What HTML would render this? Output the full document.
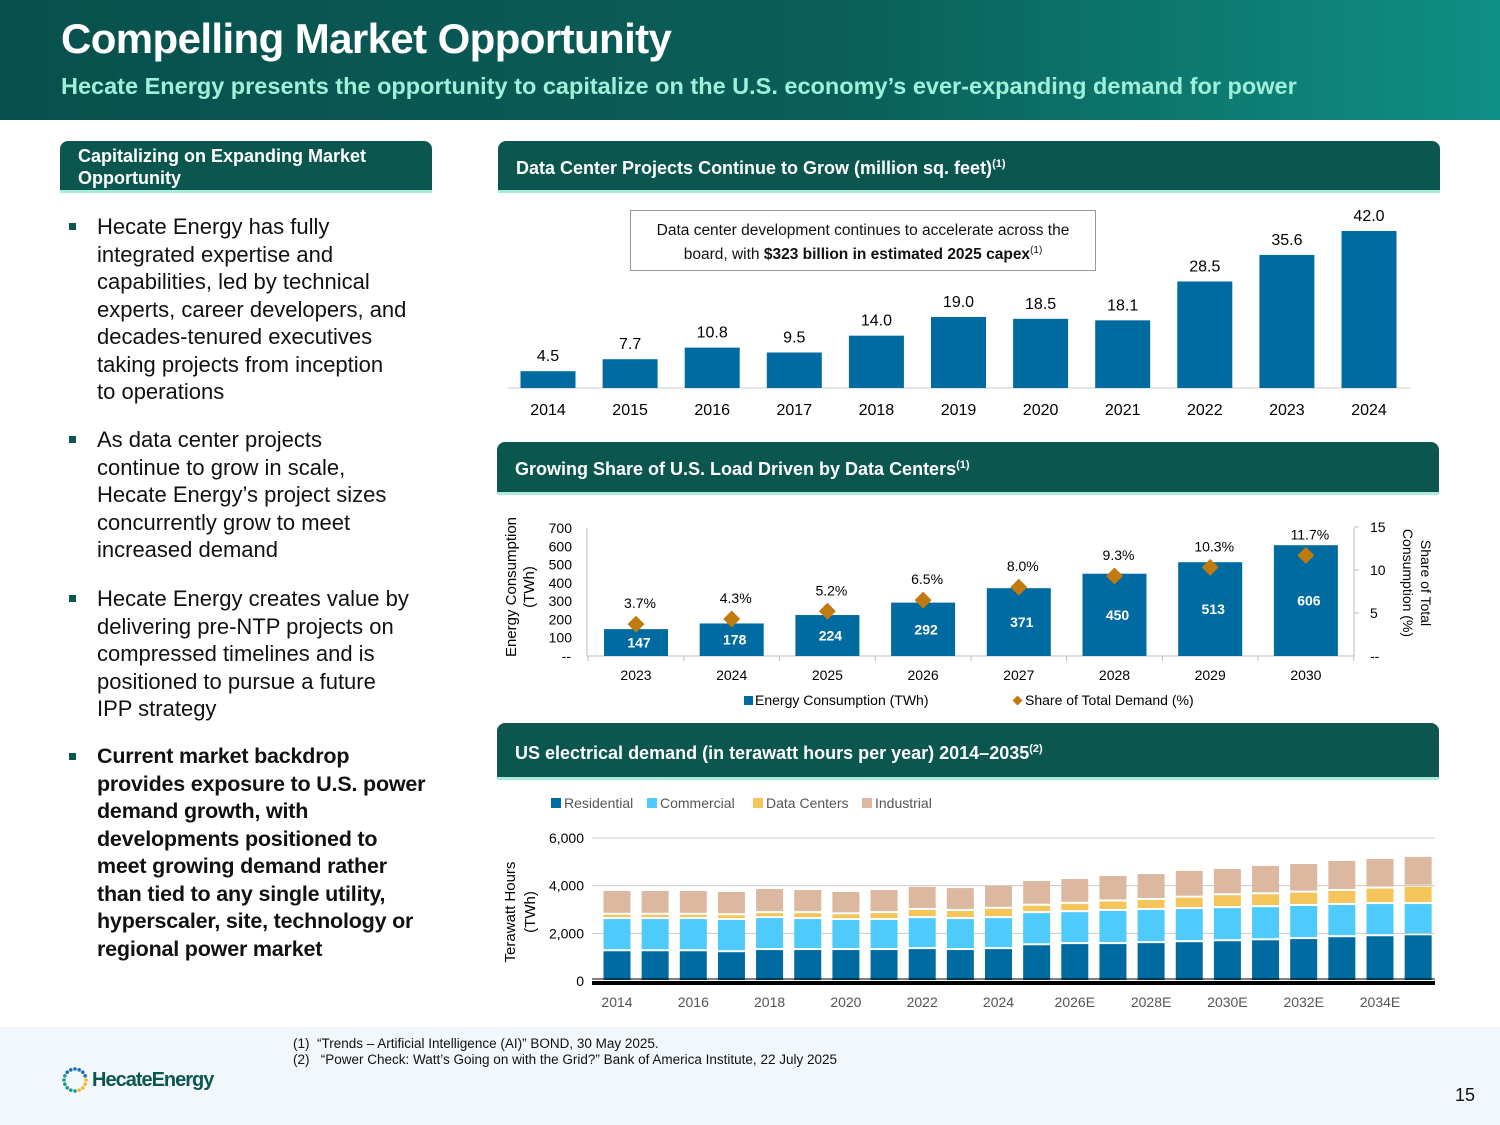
<!DOCTYPE html>
<html><head><meta charset="utf-8"><style>
*{margin:0;padding:0;box-sizing:border-box}
body{width:1500px;height:1125px;position:relative;background:#fff;font-family:"Liberation Sans",Arial,sans-serif;overflow:hidden;color:#111}
.hdr{position:absolute;left:0;top:0;width:1500px;height:120px;background:linear-gradient(90deg,#08504d 0%,#0a5e58 55%,#0f8f84 100%)}
.title{position:absolute;left:61px;top:15px;font-size:42px;font-weight:bold;color:#fff;letter-spacing:-0.6px}
.sub{position:absolute;left:61px;top:73px;font-size:23.5px;font-weight:bold;color:#9ff0d8}
.sec{position:absolute;background:#0b564f;color:#fff;font-weight:bold;border-bottom:3px solid #a8ecdc;border-radius:8px 8px 0 0}
.bul{position:absolute;left:97px;width:308px;font-size:22px;line-height:27.5px;color:#111}
.bul::before{content:"";position:absolute;left:-28px;top:10px;width:7px;height:7px;background:#0b564f}
.foot{position:absolute;left:0;top:1027px;width:1500px;height:98px;background:#f1f7fb}
svg text{font-family:"Liberation Sans",Arial,sans-serif}
</style></head><body>
<div class="hdr"></div>
<div class="title">Compelling Market Opportunity</div>
<div class="sub">Hecate Energy presents the opportunity to capitalize on the U.S. economy’s ever-expanding demand for power</div>

<div class="sec" style="left:60px;top:141px;width:372px;height:52px;font-size:18px;padding:4px 18px;line-height:22px">Capitalizing on Expanding Market Opportunity</div>
<div class="bul" style="top:213px;width:316px">Hecate Energy has fully integrated expertise and capabilities, led by technical experts, career developers, and decades-tenured executives taking projects from inception<br>to operations</div>
<div class="bul" style="top:426px;width:305px">As data center projects continue to grow in scale, Hecate Energy’s project sizes concurrently grow to meet increased demand</div>
<div class="bul" style="top:585px;width:316px">Hecate Energy creates value by delivering pre-NTP projects on compressed timelines and is positioned to pursue a future IPP strategy</div>
<div class="bul" style="top:743px;font-weight:bold;width:330px;font-size:21.5px;letter-spacing:-0.2px">Current market backdrop<br>provides exposure to U.S. power demand growth, with developments positioned to meet growing demand rather than tied to any single utility, hyperscaler, site, technology or regional power market</div>

<div class="sec" style="left:498px;top:141px;width:942px;height:52px;font-size:18px;padding:17px 18px">Data Center Projects Continue to Grow (million sq. feet)<sup style="font-size:11px">(1)</sup></div>
<div class="sec" style="left:497px;top:442px;width:942px;height:53px;font-size:18px;padding:17px 18px">Growing Share of U.S. Load Driven by Data Centers<sup style="font-size:11px">(1)</sup></div>
<div class="sec" style="left:497px;top:723px;width:942px;height:57px;font-size:18px;padding:20px 18px">US electrical demand (in terawatt hours per year) 2014–2035<sup style="font-size:11px">(2)</sup></div>

<div style="position:absolute;left:630px;top:210px;width:466px;height:61px;border:1px solid #999;font-size:15.5px;text-align:center;padding:10px 24px 0;line-height:20px">Data center development continues to accelerate across the board, with <b>$323 billion in estimated 2025 capex</b><sup style="font-size:10px">(1)</sup></div>

<svg id="svg" width="1500" height="1125" style="position:absolute;left:0;top:0"></svg>

<div class="foot"></div>
<div style="position:absolute;left:293px;top:1036px;font-size:13.5px;line-height:16px">(1)&nbsp; “Trends – Artificial Intelligence (AI)” BOND, 30 May 2025.<br>(2)&nbsp;&nbsp; “Power Check: Watt’s Going on with the Grid?” Bank of America Institute, 22 July 2025</div>
<div style="position:absolute;left:60px;top:1066px;height:28px;display:flex;align-items:center">
<svg width="30" height="30" viewBox="0 0 30 30"><g id="dots"></g></svg>
<span style="font-size:20px;color:#0b564f;font-weight:bold;letter-spacing:-1px;margin-left:2px">HecateEnergy</span></div>
<div style="position:absolute;left:1455px;top:1085px;font-size:18px">15</div>

<script>
const NS="http://www.w3.org/2000/svg";
const svg=document.getElementById('svg');
function mk(t,a,txt){const e=document.createElementNS(NS,t);for(const k in a)e.setAttribute(k,a[k]);if(txt!==undefined)e.textContent=txt;svg.appendChild(e);return e;}

const dg=document.getElementById('dots');
for(let i=0;i<16;i++){const a=i/16*Math.PI*2;const c=document.createElementNS(NS,'circle');c.setAttribute('cx',15+11*Math.cos(a));c.setAttribute('cy',15+11*Math.sin(a));c.setAttribute('r',1.8);c.setAttribute('fill',i<4?'#f2b632':(i<10?'#1b9a8a':'#1f6fb3'));dg.appendChild(c);}

// Chart 1
const c1Years=["2014","2015","2016","2017","2018","2019","2020","2021","2022","2023","2024"];
const c1Vals=[4.5,7.7,10.8,9.5,14.0,19.0,18.5,18.1,28.5,35.6,42.0];
const c1Labels=["4.5","7.7","10.8","9.5","14.0","19.0","18.5","18.1","28.5","35.6","42.0"];
(function(){
 const base=388,k=157/42,x0=548,step=82.1,w=55;
 mk('line',{x1:508,x2:1410,y1:base,y2:base,stroke:'#ccc'});
 c1Vals.forEach((v,i)=>{const cx=x0+i*step,h=v*k;
  const r=mk('rect',{x:cx-w/2,y:base-h,width:w,height:h,fill:'#006ba0'});
  
  mk('text',{x:cx,y:base-h-10,'text-anchor':'middle','font-size':16},c1Labels[i]);
  mk('text',{x:cx,y:base+27,'text-anchor':'middle','font-size':16},c1Years[i]);});
})();

// Chart 2
const c2Years=["2023","2024","2025","2026","2027","2028","2029","2030"];
const c2Energy=[147,178,224,292,371,450,513,606];
const c2Share=[3.7,4.3,5.2,6.5,8.0,9.3,10.3,11.7];
const c2LeftTicks=[100,200,300,400,500,600,700];
const c2RightTicks=[5,10,15];
(function(){
 const base=656,ky=128/700,kr=129/15,x0=636,step=95.7,w=64;
 mk('line',{x1:587,x2:587,y1:528,y2:base,stroke:'#bbb'});
 mk('line',{x1:1354,x2:1354,y1:528,y2:base,stroke:'#bbb'});
 mk('line',{x1:587,x2:1354,y1:base,y2:base,stroke:'#bbb'});
 mk('text',{x:571,y:base+5,'text-anchor':'end','font-size':14},'--');
 mk('text',{x:1370,y:base+5,'font-size':14},'--');
 c2LeftTicks.forEach(t=>mk('text',{x:572,y:base-t*ky+5,'text-anchor':'end','font-size':14},t));
 c2RightTicks.forEach(t=>{mk('text',{x:1370,y:base-t*kr+5,'font-size':14},t);mk('line',{x1:1354,x2:1359,y1:base-t*kr,y2:base-t*kr,stroke:'#bbb'});});
 for(let i=0;i<=c2Years.length;i++){const x=x0-step/2+i*step;mk('line',{x1:x,x2:x,y1:base,y2:base+5,stroke:'#bbb'});}
 c2Energy.forEach((v,i)=>{const cx=x0+i*step,h=v*ky;
  const r=mk('rect',{x:cx-w/2,y:base-h,width:w,height:h,fill:'#006ba0'});
  
  mk('text',{x:cx+3,y:base-Math.min(h,60)/2-Math.max(0,h-60)/2+5,'text-anchor':'middle','font-size':14,'font-weight':'bold',fill:'#fff'},v);
  mk('text',{x:cx,y:base+24,'text-anchor':'middle','font-size':14},c2Years[i]);});
 c2Share.forEach((v,i)=>{const cx=x0+i*step,y=base-v*kr;
  const d=mk('rect',{x:cx-6,y:y-6,width:12,height:12,fill:'#c07a10',transform:`rotate(45 ${cx} ${y})`});
  
  mk('text',{x:cx+4,y:y-16,'text-anchor':'middle','font-size':14},v.toFixed(1)+'%');});
 mk('text',{x:516,y:587,'text-anchor':'middle','font-size':15,transform:'rotate(-90 516 587)'},'Energy Consumption');
 mk('text',{x:534,y:587,'text-anchor':'middle','font-size':15,transform:'rotate(-90 534 587)'},'(TWh)');
 mk('text',{x:1421,y:583,'text-anchor':'middle','font-size':14,transform:'rotate(90 1421 583)'},'Share of Total');
 mk('text',{x:1403,y:583,'text-anchor':'middle','font-size':14,transform:'rotate(90 1403 583)'},'Consumption (%)');
 mk('rect',{x:744,y:696,width:9,height:9,fill:'#006ba0'});
 mk('text',{x:755,y:705,'font-size':14},'Energy Consumption (TWh)');
 mk('rect',{x:1014,y:697,width:7,height:7,fill:'#c07a10',transform:'rotate(45 1017.5 700.5)'});
 mk('text',{x:1025,y:705,'font-size':14},'Share of Total Demand (%)');
})();

// Chart 3
const c3Years=["2014","2015","2016","2017","2018","2019","2020","2021","2022","2023","2024","2025E","2026E","2027E","2028E","2029E","2030E","2031E","2032E","2033E","2034E","2035E"];
const c3Tick=["2014","","2016","","2018","","2020","","2022","","2024","","2026E","","2028E","","2030E","","2032E","","2034E",""];
const c3Residential=[1290,1290,1290,1250,1340,1340,1340,1340,1380,1340,1380,1540,1590,1590,1630,1670,1710,1750,1800,1880,1920,1960];
const c3Commercial=[1350,1350,1350,1350,1340,1300,1260,1260,1300,1300,1300,1350,1340,1390,1390,1390,1390,1390,1390,1350,1350,1310];
const c3DataCenters=[180,180,180,200,210,250,240,290,340,340,390,310,350,400,420,480,540,540,560,590,650,730];
const c3Industrial=[1000,1000,1000,980,1010,970,940,970,970,960,960,1040,1040,1070,1090,1120,1100,1190,1200,1260,1240,1250];
const c3YTicks=[0,2000,4000,6000];
(function(){
 const base=981,ky=143/6000,x0=617,step=38.15,w=27;
 c3YTicks.forEach(t=>{const y=base-t*ky;
  if(t>0)mk('line',{x1:592,x2:1435,y1:y,y2:y,stroke:'#c8c8c8'});
  mk('text',{x:584,y:y+5,'text-anchor':'end','font-size':14},t.toLocaleString('en-US'));});
 const series=[[c3Residential,'#006ba0','residential'],[c3Commercial,'#4ecbfb','commercial'],[c3DataCenters,'#f4c55a','data-centers'],[c3Industrial,'#dcb8a0','industrial']];
 c3Years.forEach((yr,i)=>{const cx=x0+i*step;let cum=0;
  series.forEach(([arr,col,nm])=>{const v=arr[i];const y1=base-(cum+v)*ky,h=v*ky;
   const r=mk('rect',{x:cx-w/2,y:y1+1,width:w,height:Math.max(h-2,1),fill:col});
   
   cum+=v;});
  if(c3Tick[i])mk('text',{x:cx,y:1007,'text-anchor':'middle','font-size':14,fill:'#555'},c3Tick[i]);});
 mk('rect',{x:592,y:base,width:843,height:4,fill:'#000'});
 mk('line',{x1:592,x2:1435,y1:base-2,y2:base-2,stroke:'#000','stroke-width':1});
 mk('text',{x:515,y:912,'text-anchor':'middle','font-size':15,transform:'rotate(-90 515 912)'},'Terawatt Hours');
 mk('text',{x:535,y:912,'text-anchor':'middle','font-size':15,transform:'rotate(-90 535 912)'},'(TWh)');
 const leg=[['Residential','#006ba0',551],['Commercial','#4ecbfb',647],['Data Centers','#f4c55a',753],['Industrial','#dcb8a0',862]];
 leg.forEach(([t,c,x])=>{mk('rect',{x:x,y:798,width:10,height:10,fill:c});mk('text',{x:x+13,y:808,'font-size':14,fill:'#555'},t);});
})();
</script>
</body></html>
